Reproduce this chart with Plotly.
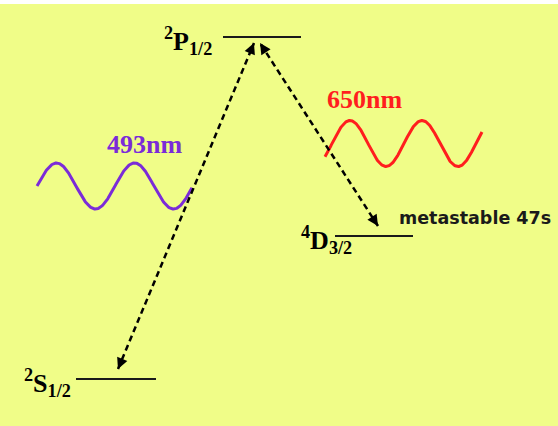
import numpy as np
import plotly.graph_objects as go

# ---- data -------------------------------------------------------------
level_labels = ["<sup>2</sup>S<sub>1/2</sub>", "<sup>4</sup>D<sub>3/2</sub>", "<sup>2</sup>P<sub>1/2</sub>"]
level_height = [47, 190, 389]          # diagram units (not to scale)
level_x_start = [76, 335, 223]
level_x_end = [156, 413, 301]
label_right = [73, 354, 214]

# transitions: (lower level index, upper level index) and horizontal anchor points
trans_lower = [0, 1]
trans_upper = [2, 2]
trans_x_lower = [118, 378]
trans_x_upper = [254, 260]

wavelengths_nm = [493, 650]
wave_colors = ["#7B2BD8", "#FF1E1E"]
wave_x_start = [37, 325]
wave_x_end = [192, 482]
wave_center = [240, 282.5]
wave_period = [78, 72]
wave_phase_x = [37, 332]
label_pos = [(144, 282), (364, 327)]

note_text = "metastable 47s"

BG = "rgb(240,253,136)"
W, H = 558, 426
TOP = 4

fig = go.Figure()

# energy level lines
for lbl, h, x0, x1, xr in zip(level_labels, level_height, level_x_start, level_x_end, label_right):
    fig.add_trace(go.Scatter(x=[x0, x1], y=[h, h], mode="lines",
                             line=dict(color="#1a1a1a", width=2), hoverinfo="skip"))
    fig.add_annotation(x=xr, y=h, text=f"<b>{lbl}</b>", showarrow=False, xanchor="right",
                       yanchor="middle", yshift=-4,
                       font=dict(family="Liberation Serif", size=26, color="black"))

# photon waves
for wl, c, xs, xe, yc, per, ph, (lx, ly) in zip(wavelengths_nm, wave_colors, wave_x_start,
                                              wave_x_end, wave_center, wave_period,
                                              wave_phase_x, label_pos):
    xx = np.linspace(xs, xe, 300)
    yy = yc + 23 * np.sin(2 * np.pi * (xx - ph) / per)
    fig.add_trace(go.Scatter(x=xx, y=yy, mode="lines", line=dict(color=c, width=3),
                             hoverinfo="skip"))
    fig.add_annotation(x=lx, y=ly, text=f"<b>{wl}nm</b>", showarrow=False,
                       font=dict(family="Liberation Serif", size=26, color=c))

# dashed transitions with arrowheads at both ends
gap_lower = 10
gap_upper = 6
for lo, up, xl, xu in zip(trans_lower, trans_upper, trans_x_lower, trans_x_upper):
    yl = level_height[lo] + gap_lower
    yu = level_height[up] - gap_upper
    fig.add_trace(go.Scatter(x=[xl, xu], y=[yl, yu], mode="lines",
                             line=dict(color="black", width=2.5, dash="6px,4px"),
                             hoverinfo="skip"))
    d = np.array([xu - xl, yu - yl], dtype=float)
    d /= np.hypot(*d)
    for (px, py), s in (((xl, yl), 1), ((xu, yu), -1)):
        fig.add_annotation(x=px, y=py, ax=px + s * 9 * d[0], ay=py + s * 9 * d[1],
                           axref="x", ayref="y", xref="x", yref="y", text="",
                           showarrow=True, arrowhead=2, arrowsize=1.1, arrowwidth=2,
                           arrowcolor="black", standoff=0)

# metastable note
fig.add_annotation(x=397, y=208, text=f"<b>{note_text}</b>", showarrow=False, xanchor="left",
                   font=dict(family="DejaVu Sans", size=17.5, color="#1a1a1a"))

fig.update_layout(
    width=W, height=H, margin=dict(l=0, r=0, t=TOP, b=0),
    paper_bgcolor="white", plot_bgcolor=BG, showlegend=False,
    xaxis=dict(range=[0, W], visible=False, fixedrange=True),
    yaxis=dict(range=[0, H - TOP], visible=False, fixedrange=True),
)

fig.write_html("out.html", config={"displayModeBar": False},
               post_script="document.body.style.margin='0';")
